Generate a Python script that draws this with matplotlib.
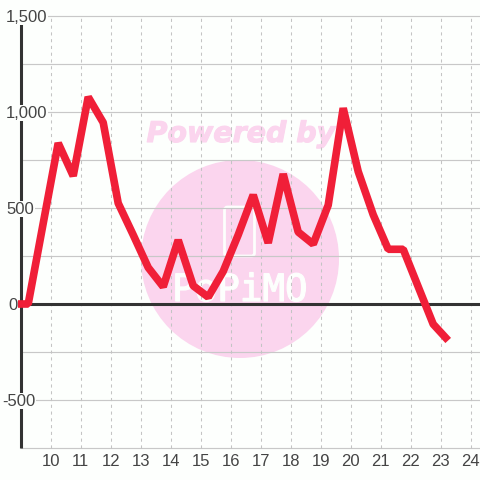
import matplotlib
matplotlib.use("Agg")
import matplotlib.pyplot as plt
import matplotlib.patheffects as pe
from matplotlib.patches import Circle, FancyBboxPatch

hours = [8.9, 9.25, 9.75, 10.25, 10.75, 11.25, 11.75, 12.25, 12.75, 13.25, 13.75,
         14.25, 14.75, 15.25, 15.75, 16.25, 16.75, 17.25, 17.75, 18.25, 18.75,
         19.25, 19.75, 20.25, 20.75, 21.25, 21.75, 22.25, 22.75, 23.25]
values = [0, 0, 420, 838, 667, 1078, 945, 525, 360, 190, 90,
          333, 95, 36, 170, 360, 568, 318, 677, 375, 312,
          515, 1020, 690, 465, 285, 285, 90, -105, -190]
x_ticks = list(range(10, 25))
y_major = [-500, 0, 500, 1000, 1500]
y_labels = ["-500", "0", "500", "1,000", "1,500"]
y_minor = [-750, -250, 250, 750, 1250]

plt.rcParams["font.family"] = ["Liberation Sans", "DejaVu Sans"]
W, H = 480, 480
bg = "#fdfffd"
pink = "#fbd5ee"

fig = plt.figure(figsize=(4.8, 4.8), dpi=100, facecolor=bg)
ax = fig.add_axes([0, 0, 1, 1], facecolor="none")
# axes fill the figure; limits are chosen so the ticks land on the reference pixels
x_per_px = 1 / 30
y_per_px = 1 / 0.192
x0 = 10 - 50.7 * x_per_px
x1 = 10 + (W - 50.7) * x_per_px
ax.set_xlim(x0, x1)
ax.set_ylim(-(H - 304) * y_per_px, 304 * y_per_px)
for s in ax.spines.values():
    s.set_visible(False)
ax.tick_params(left=False, bottom=False, labelleft=False, labelbottom=False)

# watermark, in pixel coordinates
wm = fig.add_axes([0, 0, 1, 1], facecolor="none", zorder=-1)
wm.set_xlim(0, W)
wm.set_ylim(H, 0)
wm.axis("off")
wm.add_patch(Circle((240, 259), 99, fc=pink, ec="none"))
wm.add_patch(FancyBboxPatch((224.5, 207), 30, 49, boxstyle="round,pad=0,rounding_size=3",
                            fc="none", ec=bg, lw=2))
wm.text(241, 134, "Powered by", color=pink, fontsize=20.5, fontweight="bold", style="italic",
        family="DejaVu Sans", ha="center", va="center",
        path_effects=[pe.withStroke(linewidth=0.8, foreground=pink)])
wm.text(240, 291, "PoPiMO", color=bg, fontsize=27, family="DejaVu Sans Mono",
        ha="center", va="center",
        path_effects=[pe.withStroke(linewidth=0.9, foreground=bg)])

# grid
for y in y_major + y_minor:
    ax.plot([9.0, x1], [y, y], color="#c8c8c8", lw=0.85, zorder=1)
for x in x_ticks:
    ax.plot([x, x], [-750, 1500], color="#c4c4c4", lw=0.75, ls=(0, (3, 3.5)), zorder=1)

# axis lines
ax.plot([9.0, x1], [0, 0], color="#333333", lw=2.2, zorder=2, solid_capstyle="butt")
ax.plot([9.0, 9.0], [-750, 1500], color="#333333", lw=2.2, zorder=2, solid_capstyle="butt")

ax.plot(hours, values, color="#f01f38", lw=5.5, zorder=3, solid_joinstyle="bevel", solid_capstyle="butt")

# labels
for x in x_ticks:
    ax.text(x, -(461 - 304) * y_per_px, str(x), ha="center", va="center", color="#444444", fontsize=12)
label_left = {"-500": 2, "0": 8, "500": 6, "1,000": 6, "1,500": 6}
for y, lab in zip(y_major, y_labels):
    ax.text(x0 + label_left[lab] * x_per_px, y - 1 * y_per_px, lab, ha="left", va="center",
            color="#444444", fontsize=12, zorder=4,
            bbox=dict(fc=bg, ec="none", pad=0.6))

fig.savefig("out.png", dpi=100, facecolor=fig.get_facecolor())
